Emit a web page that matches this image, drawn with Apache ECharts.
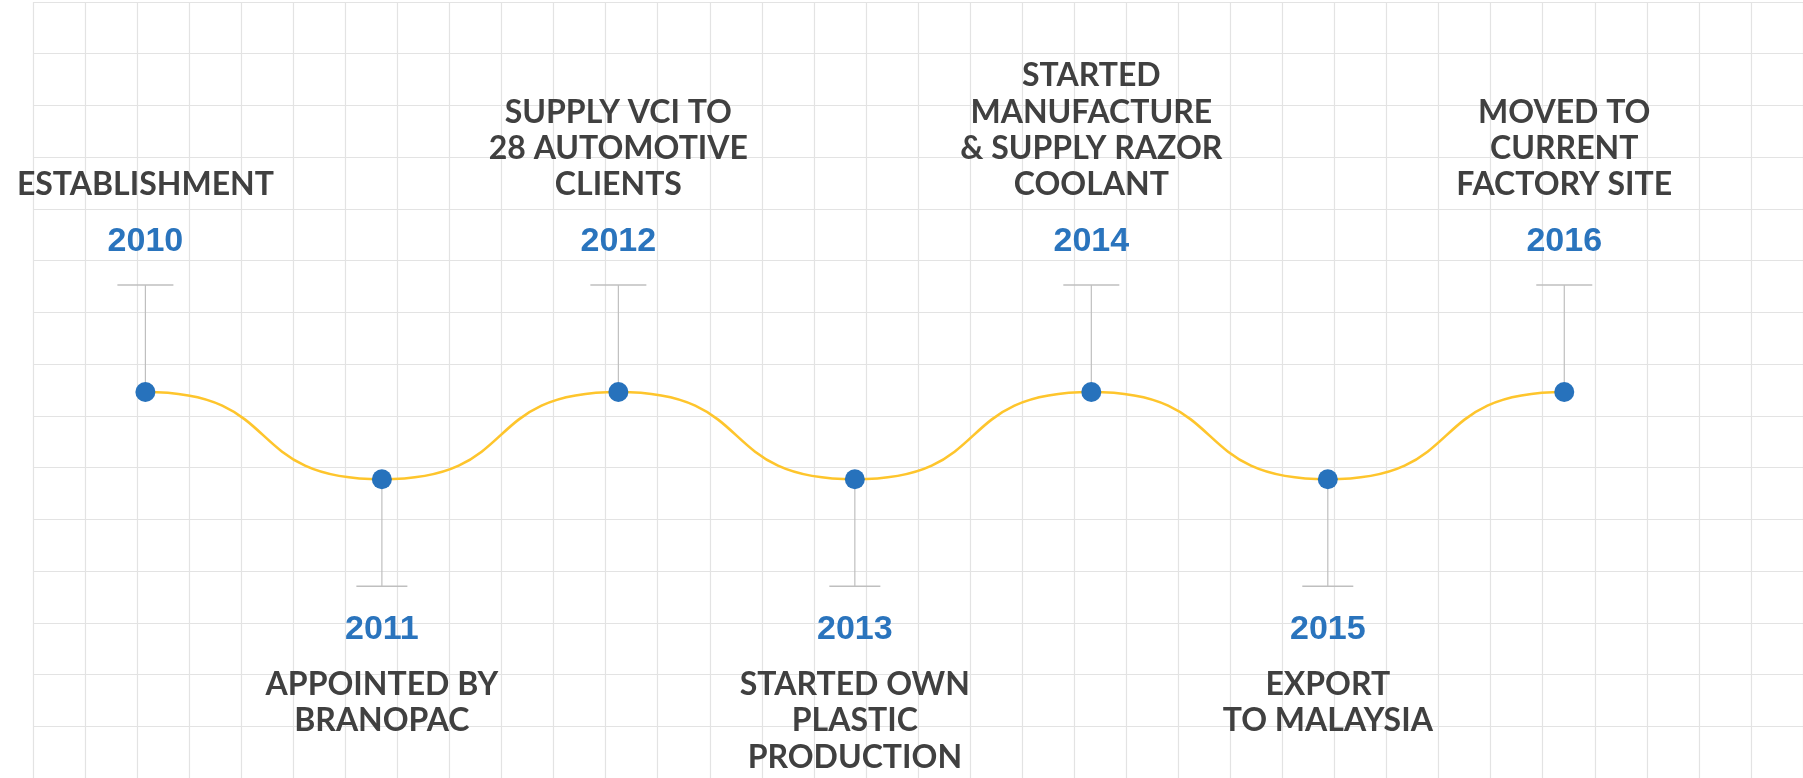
<!DOCTYPE html>
<html>
<head>
<meta charset="utf-8">
<script src="https://cdn.jsdelivr.net/npm/echarts@6/dist/echarts.min.js"></script>
<style>
  html, body { margin: 0; padding: 0; background: #ffffff; }
  #chart { width: 1803px; height: 778px; }
</style>
</head>
<body>
<div id="chart"></div>
<script>
// ---- data ----
const years = ['2010', '2011', '2012', '2013', '2014', '2015', '2016'];
const levels = [1, 0, 1, 0, 1, 0, 1]; // 1 = above the line, 0 = below
const events = [
  'ESTABLISHMENT',
  'APPOINTED BY\nBRANOPAC',
  'SUPPLY VCI TO\n28 AUTOMOTIVE\nCLIENTS',
  'STARTED OWN\nPLASTIC\nPRODUCTION',
  'STARTED\nMANUFACTURE\n& SUPPLY RAZOR\nCOOLANT',
  'EXPORT\nTO MALAYSIA',
  'MOVED TO\nCURRENT\nFACTORY SITE'
];

// ---- styles ----
const BLUE = '#2772bc';
const YEAR_BLUE = '#2a74bd';
const TEXT_DARK = '#404040';
const CURVE = '#fec52c';
const STEM = '#bfbfbf';
const GRID_LINE = '#e3e3e3';
const CELL = 52.9;
const STEM_LEN = 107;
const CAP_TOP = 28;
const CAP_BOTTOM = 25.5;
const LINE_H = 36.3;
const SMOOTH = 0.6;

const chart = echarts.init(document.getElementById('chart'), null, { renderer: 'canvas' });

function stemItem(params, api) {
  const i = params.dataIndex;
  const p = api.coord([api.value(0), api.value(1)]);
  const up = levels[i] === 1;
  const d = up ? -1 : 1;
  const capY = p[1] + d * STEM_LEN;
  const capW = up ? CAP_TOP : CAP_BOTTOM;
  const children = [
    { type: 'line', shape: { x1: p[0], y1: p[1], x2: p[0], y2: capY },
      style: { stroke: STEM, lineWidth: 1.2 } },
    { type: 'line', shape: { x1: p[0] - capW, y1: capY, x2: p[0] + capW, y2: capY },
      style: { stroke: STEM, lineWidth: 1.4 } },
    { type: 'text', x: p[0], y: p[1] + (up ? -150.5 : 150),
      style: { text: years[i], fill: YEAR_BLUE, font: 'bold 34px "Liberation Sans", Arial, sans-serif',
               align: 'center', verticalAlign: 'middle' } },
    { type: 'text', x: p[0], y: up ? p[1] - 207 + LINE_H / 2 : p[1] + 205.5 - LINE_H / 2,
      style: { text: events[i], fill: TEXT_DARK, font: 'bold 32px Lato, "Open Sans", sans-serif',
               align: 'center', verticalAlign: up ? 'bottom' : 'top', lineHeight: LINE_H } }
  ];
  return { type: 'group', children };
}

function curveItem(params, api) {
  const i = params.dataIndex;
  if (i >= years.length - 1) return null;
  const p0 = api.coord([i, levels[i]]);
  const p1 = api.coord([i + 1, levels[i + 1]]);
  const a = (p1[0] - p0[0]) * SMOOTH;
  return {
    type: 'bezierCurve',
    shape: { x1: p0[0], y1: p0[1], x2: p1[0], y2: p1[1],
             cpx1: p0[0] + a, cpy1: p0[1], cpx2: p1[0] - a, cpy2: p1[1] },
    style: { stroke: CURVE, lineWidth: 2.6, fill: null }
  };
}

const pointData = years.map((y, i) => [i, levels[i]]);

chart.setOption({
  animation: false,
  backgroundColor: '#ffffff',
  grid: [
    { left: 33, top: 2, width: CELL * 34, height: CELL * 15, containLabel: false },
    { left: 145.4 - 236.48 / 2, top: 392, width: 236.48 * 7, height: 87.3, containLabel: false }
  ],
  xAxis: [
    { gridIndex: 0, type: 'value', min: 0, max: 34, interval: 1, silent: true,
      axisLine: { show: false }, axisTick: { show: false }, axisLabel: { show: false },
      splitLine: { show: true, lineStyle: { color: GRID_LINE, width: 1.2 } } },
    { gridIndex: 1, type: 'category', data: years, boundaryGap: true, show: false }
  ],
  yAxis: [
    { gridIndex: 0, type: 'value', min: 0, max: 15, interval: 1, silent: true,
      axisLine: { show: false }, axisTick: { show: false }, axisLabel: { show: false },
      splitLine: { show: true, lineStyle: { color: GRID_LINE, width: 1.2 } } },
    { gridIndex: 1, type: 'value', min: 0, max: 1, show: false }
  ],
  series: [
    { type: 'custom', name: 'stems', xAxisIndex: 1, yAxisIndex: 1, z: 2,
      renderItem: stemItem, data: pointData, silent: true },
    { type: 'custom', name: 'curve', xAxisIndex: 1, yAxisIndex: 1, z: 3,
      renderItem: curveItem, data: pointData, silent: true },
    { type: 'scatter', name: 'milestones', xAxisIndex: 1, yAxisIndex: 1, z: 4,
      data: pointData, symbol: 'circle', symbolSize: 20,
      itemStyle: { color: BLUE, opacity: 1 } }
  ]
});
</script>
</body>
</html>
